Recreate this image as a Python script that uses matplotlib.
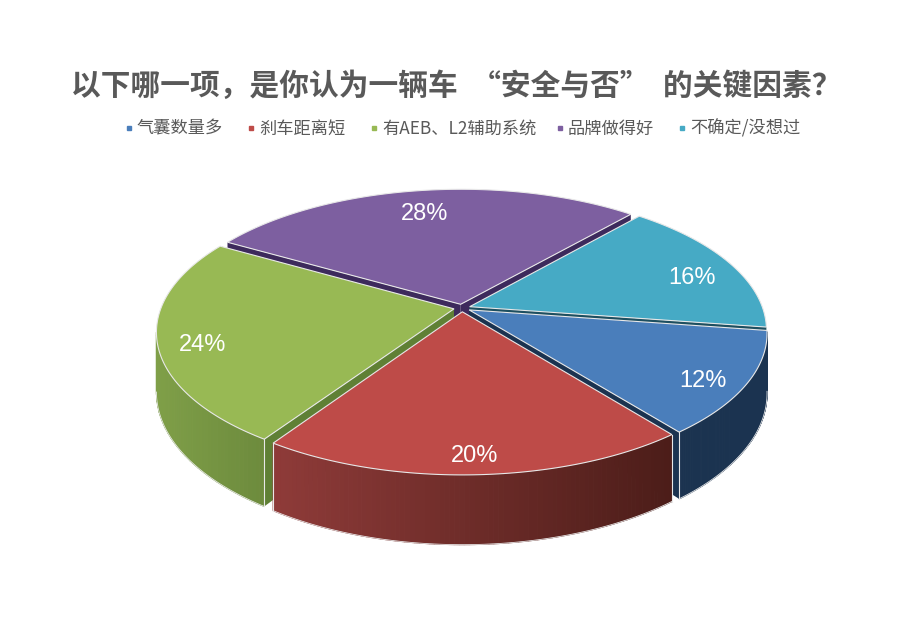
import numpy as np
import matplotlib
matplotlib.use("Agg")
import matplotlib.pyplot as plt
from matplotlib.colors import to_rgb

plt.rcParams['font.family'] = ['Noto Sans CJK SC', 'DejaVu Sans']

# data
title = "以下哪一项，是你认为一辆车  “安全与否”  的关键因素？"
categories = ["气囊数量多", "刹车距离短", "有AEB、L2辅助系统", "品牌做得好", "不确定/没想过"]
values = [12, 20, 24, 28, 16]
top_colors = ["#4a7ebb", "#be4b48", "#98b954", "#7d5fa0", "#46aac5"]
cut_colors = ["#1b3350", "#5a1f1c", "#5f8035", "#3d2a5c", "#1d4f60"]
wall_left = ["#1b3350", "#8f3b39", "#7f9f48", "#4a3560", "#2a6a7c"]
wall_right = ["#1b3350", "#4c1d19", "#6d8b3d", "#4a3560", "#2a6a7c"]
legend_x = [129, 251, 374, 560, 682]

# pie geometry, in pixels of the picture
cx, cy = 462, 308
rx, ry = 293, 135
persp = 6.1       # fake perspective, near side looks bigger
depth = 58
start_angle = -8.5  # first slice starts here, goes clockwise
explode = 0.028
edge = "#e8e8e8"


def project(u, v, z=0):
    # u,v on the unit disc, z = how far below the top face
    p = persp / (persp + v)
    return cx + rx * u * p, cy - ry * v * p + depth * z * p


fig = plt.figure(figsize=(9.22, 6.34), dpi=100)
ax = fig.add_axes([0, 0, 1, 1])
ax.set_xlim(0, 922)
ax.set_ylim(634, 0)
ax.axis("off")

# work out angles from the values
sweeps = np.array(values) / sum(values) * 360
starts = start_angle - np.concatenate(([0], np.cumsum(sweeps)[:-1]))
mids = np.radians(starts - sweeps / 2)

# back slices first, front ones painted over them
order = list(np.argsort(-np.sin(mids)))
for i in order:
    z = order.index(i) * 3
    th = np.radians(np.linspace(starts[i], starts[i] - sweeps[i], 90))
    ox, oy = explode * np.cos(mids[i]), explode * np.sin(mids[i])
    us = ox + np.cos(th)
    vs = oy + np.sin(th)

    # the two cut faces, no outline except the rim corner
    x0, y0 = project(ox, oy)
    x3, y3 = project(ox, oy, 1)
    for k in [0, -1]:
        x1, y1 = project(us[k], vs[k])
        x2, y2 = project(us[k], vs[k], 1)
        ax.fill([x0, x1, x2, x3], [y0, y1, y2, y3], color=cut_colors[i], lw=0, zorder=z + 1)
        if vs[k] < -1 / persp:
            ax.plot([x1, x2], [y1, y2], color=edge, lw=0.8, zorder=z + 2.5)

    # outer wall in small strips for the gradient, only the part facing us
    # (with the perspective the outline turns at sin = -1/persp)
    xt, yt = project(us, vs)
    xb, yb = project(us, vs, 1)
    front = vs < -1 / persp
    c0, c1 = np.array(to_rgb(wall_left[i])), np.array(to_rgb(wall_right[i]))
    span = xt.max() - xt.min()
    for k in range(len(th) - 1):
        if not (front[k] and front[k + 1]):
            continue
        f = (xt[k] - xt.min()) / span
        col = c0 * (1 - f) + c1 * f
        ax.fill([xt[k], xt[k + 1], xb[k + 1], xb[k]], [yt[k], yt[k + 1], yb[k + 1], yb[k]],
                fc=col, ec=col, lw=0.8, zorder=z + 2)
    # light line round the wall
    ax.plot(xb[front], yb[front], color=edge, lw=0.6, zorder=z + 2)

    # top face
    ax.fill(np.r_[x0, xt], np.r_[y0, yt], fc=top_colors[i], ec=edge, lw=0.8, zorder=z + 3)

# percent labels
for i in range(len(values)):
    lx, ly = project(0.88 * np.cos(mids[i]), 0.88 * np.sin(mids[i]))
    ax.text(lx, ly + 9, f"{values[i]}%", color="white", fontsize=17, ha="center", va="center",
            family=["Liberation Sans"], zorder=100)

# title and legend
ax.text(456, 86, title, fontsize=21.4, fontweight="bold", color="#595959", ha="center", va="center")
for i in range(len(categories)):
    ax.plot(legend_x[i], 128, marker="s", ms=3.2, color=top_colors[i], zorder=5)
    ax.text(legend_x[i] + 8, 128.5, categories[i], fontsize=12.4, color="#595959", va="center")

plt.savefig("out.png", dpi=100)
